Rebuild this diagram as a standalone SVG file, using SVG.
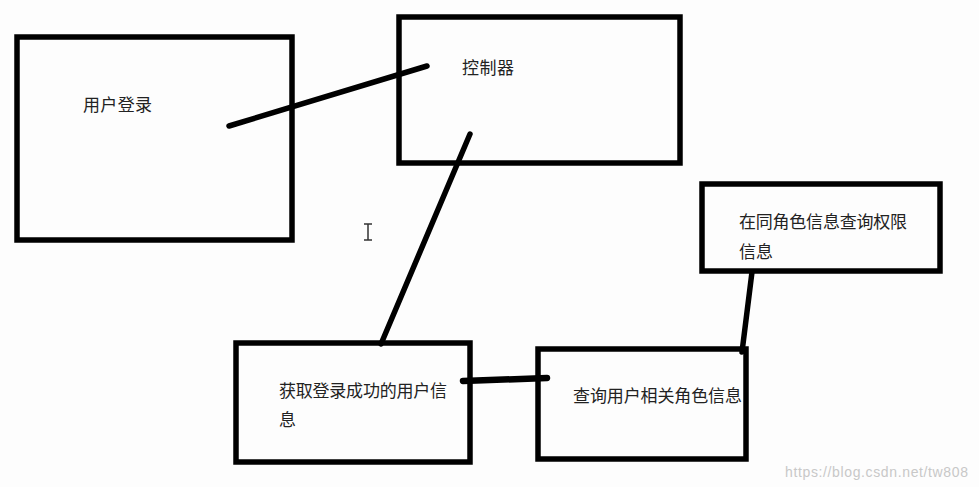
<svg xmlns="http://www.w3.org/2000/svg" width="979" height="487" viewBox="0 0 979 487">
<style>
.box{fill:none;stroke:#000;stroke-width:5.5}
.t{font-family:"Liberation Sans","Noto Sans CJK SC",sans-serif;font-size:17px;fill:#222}
.c{stroke:#000;stroke-width:5.5;stroke-linecap:round;fill:none}
.wm{font-family:"Liberation Sans",sans-serif;font-size:14px;fill:#c8c8c8}
</style>
<rect width="979" height="487" fill="#fdfdfd"/>
<g id="connectors">
<line class="c" x1="229" y1="126" x2="427" y2="66"/>
<line class="c" x1="470" y1="134" x2="381" y2="344"/>
<line class="c" x1="463" y1="381" x2="547" y2="378" style="stroke-width:6.5"/>
<line class="c" x1="752" y1="272" x2="742" y2="352"/>
</g>
<g id="n1"><rect class="box" x="17" y="37" width="275" height="203"/><text class="t" x="83" y="111" textLength="69">用户登录</text></g>
<g id="n2"><rect class="box" x="399" y="17" width="281" height="146"/><text class="t" x="462" y="74" textLength="52">控制器</text></g>
<g id="n3"><rect class="box" x="236" y="343" width="234" height="119"/><text class="t" x="279" y="397" textLength="168">获取登录成功的用户信</text><text class="t" x="279" y="426">息</text></g>
<g id="n4"><rect class="box" x="538" y="349" width="208" height="110"/><text class="t" x="573" y="402" textLength="169">查询用户相关角色信息</text></g>
<g id="n5"><rect class="box" x="702" y="184" width="238" height="87"/><text class="t" x="739" y="228" textLength="168">在同角色信息查询权限</text><text class="t" x="739" y="258" textLength="34">信息</text></g>
<path d="M364 224h8M368 224v16M364 240h8" stroke="#333" stroke-width="1.5" fill="none"/>
<text class="wm" x="785" y="477" textLength="183">https://blog.csdn.net/tw808</text>
</svg>
